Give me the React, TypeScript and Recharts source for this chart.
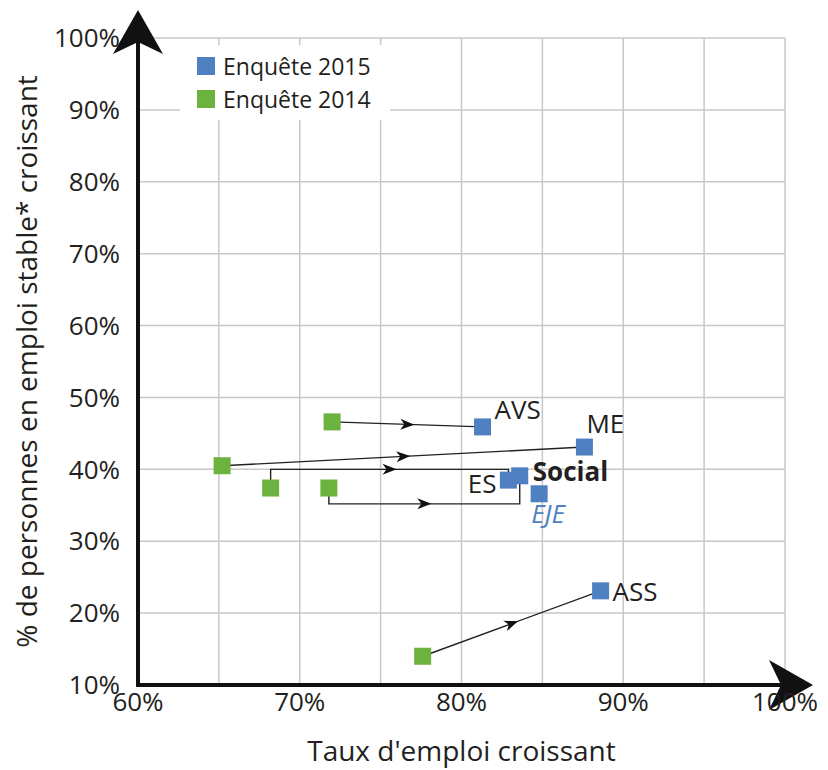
import React from "react";
import {
  ScatterChart,
  Scatter,
  XAxis,
  YAxis,
  CartesianGrid,
  Legend,
  LabelList,
} from "recharts";

const FONT = "'Open Sans', 'DejaVu Sans', sans-serif";
const BLUE = "#4f81c2";
const GREEN = "#6bb23e";
const INK = "#231f20";

// Enquête 2015
const names2015 = ["AVS", "ME", "Social", "ES", "EJE", "ASS"];
const emploi2015 = [81.3, 87.6, 83.6, 82.9, 84.8, 88.6];
const stable2015 = [45.9, 43.1, 39.1, 38.5, 36.6, 23.1];

// Enquête 2014 (pas de point EJE)
const names2014 = ["AVS", "ME", "Social", "ES", "ASS"];
const emploi2014 = [72.0, 65.2, 71.8, 68.2, 77.6];
const stable2014 = [46.6, 40.5, 37.4, 37.4, 14.0];

// flèches en équerre : niveau du palier horizontal
const elbowLevel: Record<string, number> = { ES: 40.0, Social: 35.2 };

const xTicks = [60, 65, 70, 75, 80, 85, 90, 95, 100];
const yTicks = [10, 20, 30, 40, 50, 60, 70, 80, 90, 100];

const legendOrder = ["Enquête 2015", "Enquête 2014"];

const data2015 = names2015.map((name, i) => ({ name, x: emploi2015[i], y: stable2015[i] }));
const data2014 = names2014.map((name, i) => ({ name, x: emploi2014[i], y: stable2014[i] }));

const connectors = data2014.map((from) => {
  const to = data2015[names2015.indexOf(from.name)];
  const lvl = elbowLevel[from.name];
  const pts =
    lvl === undefined
      ? [from, to]
      : [from, { x: from.x, y: lvl }, { x: to.x, y: lvl }, to];
  return { name: from.name, pts };
});

const labelStyle: Record<string, any> = {
  AVS: { dx: 12, dy: -8, anchor: "start" },
  ME: { dx: 2, dy: -14, anchor: "start" },
  Social: { dx: 13, dy: 5, anchor: "start", weight: 700 },
  ES: { dx: -12, dy: 13, anchor: "end" },
  EJE: { dx: -8, dy: 29, anchor: "start", italic: true, color: BLUE },
  ASS: { dx: 12, dy: 10, anchor: "start" },
};

const Square = (props: any) => {
  const { cx, cy, fill } = props;
  const s = 17;
  return <rect x={cx - s / 2} y={cy - s / 2} width={s} height={s} fill={fill} />;
};

const Nothing = () => <g />;

const ArrowPath = (props: any) => {
  const pts: { x: number; y: number }[] = props.points || [];
  if (pts.length < 2) return null;
  const d = pts.map((p, i) => `${i ? "L" : "M"}${p.x},${p.y}`).join(" ");
  // la pointe va sur le segment le plus long
  let best = 0;
  let bestLen = -1;
  for (let i = 0; i < pts.length - 1; i++) {
    const len = Math.hypot(pts[i + 1].x - pts[i].x, pts[i + 1].y - pts[i].y);
    if (len > bestLen) {
      bestLen = len;
      best = i;
    }
  }
  const a = pts[best];
  const b = pts[best + 1];
  const ang = (Math.atan2(b.y - a.y, b.x - a.x) * 180) / Math.PI;
  const mx = (a.x + b.x) / 2;
  const my = (a.y + b.y) / 2;
  return (
    <g>
      <path d={d} fill="none" stroke="#222" strokeWidth={1.4} />
      <path
        d="M7,0 L-7,-5.5 L-3,0 L-7,5.5 Z"
        fill="#111"
        transform={`translate(${mx},${my}) rotate(${ang})`}
      />
    </g>
  );
};

const renderPointLabel = (props: any) => {
  const vb = props.viewBox ?? props;
  const cx = Number(vb.x) + Number(vb.width || 0) / 2;
  const cy = Number(vb.y) + Number(vb.height || 0) / 2;
  const name = String(props.value);
  const st = labelStyle[name] || { dx: 10, dy: 0, anchor: "start" };
  return (
    <text
      x={cx + st.dx}
      y={cy + st.dy}
      textAnchor={st.anchor}
      fontFamily={FONT}
      fontSize={26}
      fontWeight={st.weight || 400}
      fontStyle={st.italic ? "italic" : "normal"}
      fill={st.color || INK}
    >
      {name}
    </text>
  );
};

const xTitle = (props: any) => {
  const vb = props.viewBox;
  return (
    <text
      x={vb.x + vb.width / 2}
      y={vb.y + 76}
      textAnchor="middle"
      fontFamily={FONT}
      fontSize={28}
      fill={INK}
    >
      Taux d'emploi croissant
    </text>
  );
};

const yTitle = (props: any) => {
  const vb = props.viewBox;
  const x = 37;
  const y = vb.y + vb.height / 2;
  return (
    <text
      x={x}
      y={y}
      transform={`rotate(-90, ${x}, ${y})`}
      textAnchor="middle"
      fontFamily={FONT}
      fontSize={28}
      fill={INK}
    >
      % de personnes en emploi stable* croissant
    </text>
  );
};

const LegendBox = (props: any) => {
  const items = (props.payload || [])
    .filter((p: any) => p.type !== "none")
    .sort((a: any, b: any) => legendOrder.indexOf(a.value) - legendOrder.indexOf(b.value));
  return (
    <div
      style={{
        background: "#fff",
        padding: "4px 0 5px 17px",
        fontFamily: FONT,
        fontSize: 23,
        color: INK,
      }}
    >
      {items.map((it: any) => (
        <div key={it.value} style={{ display: "flex", alignItems: "center", height: 33 }}>
          <span
            style={{ width: 18, height: 18, background: it.color, marginRight: 8, display: "inline-block" }}
          />
          {it.value}
        </div>
      ))}
    </div>
  );
};

export default function App() {
  return (
    <div style={{ position: "absolute", left: 0, top: 0, width: 828, height: 770, background: "#fff" }}>
      <svg width={0} height={0} style={{ position: "absolute" }}>
        <defs>
          <marker
            id="axisArrow"
            markerUnits="userSpaceOnUse"
            markerWidth={50}
            markerHeight={56}
            viewBox="0 -28 50 56"
            refX={16}
            refY={0}
            orient="auto-start-reverse"
          >
            <path d="M0,-25 L44,0 L0,25 L12,0 Z" fill="#111" />
          </marker>
        </defs>
      </svg>
      <ScatterChart width={828} height={770} margin={{ top: 38, right: 43, bottom: 0, left: 0 }}>
        <CartesianGrid stroke="#c8c8c8" strokeWidth={1.5} />
        <XAxis
          type="number"
          dataKey="x"
          domain={[60, 100]}
          ticks={xTicks}
          height={85}
          tickFormatter={(v: number) => (v % 10 === 0 ? `${v}%` : "")}
          tick={{ fontSize: 26, fill: INK, fontFamily: FONT }}
          tickLine={false}
          axisLine={{ stroke: "#111", strokeWidth: 4, strokeLinecap: "square", markerEnd: "url(#axisArrow)" }}
          label={{ content: xTitle }}
        />
        <YAxis
          type="number"
          dataKey="y"
          domain={[10, 100]}
          ticks={yTicks}
          width={138}
          tickMargin={12}
          tickFormatter={(v: number) => `${v}%`}
          tick={{ fontSize: 26, fill: INK, fontFamily: FONT }}
          tickLine={false}
          axisLine={{ stroke: "#111", strokeWidth: 4, strokeLinecap: "square", markerStart: "url(#axisArrow)" }}
          label={{ content: yTitle }}
        />
        <Legend
          layout="horizontal"
          verticalAlign="middle"
          align="center"
          content={LegendBox}
          wrapperStyle={{ left: 180, top: 45, width: 210 }}
        />
        {connectors.map((c) => (
          <Scatter
            key={c.name}
            name={`lien ${c.name}`}
            data={c.pts}
            line={ArrowPath}
            lineType="joint"
            shape={Nothing}
            legendType="none"
            isAnimationActive={false}
          />
        ))}
        <Scatter
          name="Enquête 2015"
          data={data2015}
          fill={BLUE}
          shape={Square}
          legendType="square"
          isAnimationActive={false}
        >
          <LabelList dataKey="name" content={renderPointLabel} />
        </Scatter>
        <Scatter
          name="Enquête 2014"
          data={data2014}
          fill={GREEN}
          shape={Square}
          legendType="square"
          isAnimationActive={false}
        />
      </ScatterChart>
    </div>
  );
}
